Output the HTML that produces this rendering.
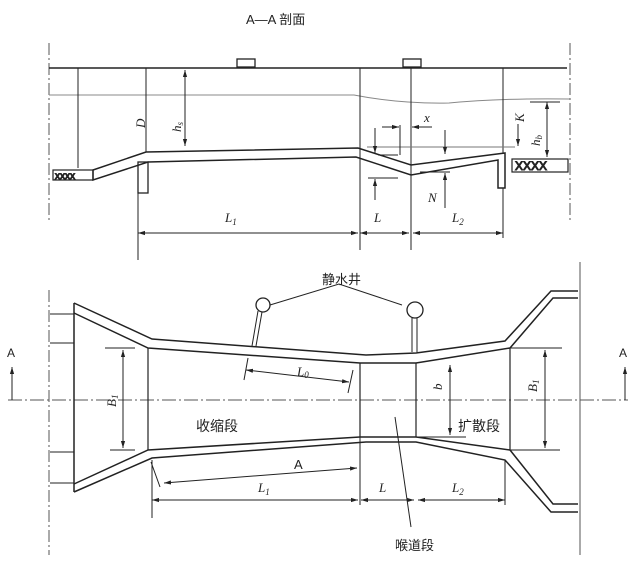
<!DOCTYPE html>
<html><head><meta charset="utf-8"><style>
html,body{margin:0;padding:0;background:#fff;}
svg{display:block;}
text{font-family:"Liberation Serif","Noto Serif CJK SC",serif;fill:#222;}
.c{font-family:"Liberation Sans","Noto Sans CJK SC",sans-serif;}
</style></head><body>
<svg width="639" height="564" viewBox="0 0 639 564" xmlns="http://www.w3.org/2000/svg">
<defs>
<marker id="a" viewBox="0 0 10 10" refX="10" refY="5" markerWidth="7" markerHeight="7" orient="auto-start-reverse"><path d="M0,2 L10,5 L0,8 z" fill="#222"/></marker>
</defs>
<g stroke="#222" fill="none" stroke-width="1">
<!-- TOP SECTION -->
<line x1="49" y1="43" x2="49" y2="222" stroke-dasharray="12,3,2,3" stroke="#555"/>
<line x1="570" y1="43" x2="570" y2="222" stroke-dasharray="12,3,2,3" stroke="#555"/>
<line x1="49" y1="68" x2="567" y2="68" stroke-width="1.5"/>
<rect x="237" y="59" width="18" height="8" stroke-width="1.3"/>
<rect x="403" y="59" width="18" height="8" stroke-width="1.3"/>
<path d="M49,95 L354,95 Q400,104 449,103 Q500,98 570,99" stroke="#888"/>
<line x1="78" y1="68" x2="78" y2="168"/>
<path d="M93,170 L146,152 L358,148 L411,165 L505,153 L505,188 L498,188 L498,160 L411,175 L356,157 L148,162 L93,180 Z" stroke-width="1.5"/>
<rect x="53" y="170" width="40" height="10" stroke-width="1.2"/>
<text x="55" y="179" font-size="10" class="c">xxxx</text>
<rect x="138" y="162" width="10" height="31" stroke-width="1.3"/>
<rect x="512" y="159" width="56" height="13" stroke-width="1.2"/>
<text x="515" y="170" font-size="12" class="c">XXXX</text>
<line x1="146" y1="68" x2="146" y2="152"/>
<line x1="185" y1="70" x2="185" y2="146" marker-start="url(#a)" marker-end="url(#a)"/>
<line x1="360" y1="68" x2="360" y2="250"/>
<line x1="411" y1="68" x2="411" y2="250"/>
<line x1="503" y1="68" x2="503" y2="153"/>
<line x1="138" y1="193" x2="138" y2="260"/>
<line x1="547" y1="102" x2="547" y2="157" marker-start="url(#a)" marker-end="url(#a)"/>
<line x1="530" y1="102" x2="560" y2="102"/>
<line x1="367" y1="147" x2="515" y2="147" stroke="#777"/>
<line x1="378" y1="155" x2="398" y2="155"/>
<line x1="368" y1="178" x2="398" y2="178"/>
<line x1="420" y1="172" x2="450" y2="172"/>
<line x1="375" y1="128" x2="375" y2="153" marker-end="url(#a)"/>
<line x1="375" y1="200" x2="375" y2="179" marker-end="url(#a)"/>
<line x1="445" y1="130" x2="445" y2="154" marker-end="url(#a)"/>
<line x1="445" y1="208" x2="445" y2="173" marker-end="url(#a)"/>
<line x1="400" y1="125" x2="400" y2="155"/>
<line x1="382" y1="127" x2="399" y2="127" marker-end="url(#a)"/>
<line x1="432" y1="127" x2="412" y2="127" marker-end="url(#a)"/>
<line x1="518" y1="124" x2="518" y2="146" marker-end="url(#a)"/>
<line x1="138" y1="233" x2="358" y2="233" marker-start="url(#a)" marker-end="url(#a)"/>
<line x1="360" y1="233" x2="409" y2="233" marker-start="url(#a)" marker-end="url(#a)"/>
<line x1="413" y1="233" x2="503" y2="233" marker-start="url(#a)" marker-end="url(#a)"/>
<line x1="503" y1="188" x2="503" y2="238"/>

<!-- BOTTOM SECTION -->
<line x1="49" y1="290" x2="49" y2="555" stroke-dasharray="12,3,2,3" stroke="#555"/>
<line x1="580" y1="262" x2="580" y2="555" stroke="#555"/>
<line x1="8" y1="400" x2="628" y2="400" stroke-dasharray="14,3,2,3" stroke="#555"/>
<path d="M12,400 L12,367" marker-end="url(#a)"/>
<path d="M625,400 L625,367" marker-end="url(#a)"/>
<path d="M74,303 L152,339 L366,355 L416,353 L505,341 L551,291 L578,291" stroke-width="1.5"/>
<path d="M74,313 L148,348 L360,363 L416,363 L510,348 L553,298 L578,298" stroke-width="1.5"/>
<path d="M74,492 L152,458 L366,442 L416,442 L505,460 L551,512 L578,512" stroke-width="1.5"/>
<path d="M74,484 L148,450 L360,437 L416,437 L510,450 L553,504 L578,504" stroke-width="1.5"/>
<line x1="74" y1="303" x2="74" y2="492" stroke-width="1.5"/>
<line x1="148" y1="348" x2="148" y2="450" stroke-width="1.2"/>
<line x1="360" y1="363" x2="360" y2="437" stroke-width="1.2"/>
<line x1="416" y1="363" x2="416" y2="437" stroke-width="1.2"/>
<line x1="510" y1="348" x2="510" y2="450" stroke-width="1.2"/>
<line x1="50" y1="314" x2="74" y2="314"/>
<line x1="50" y1="343" x2="74" y2="343"/>
<line x1="50" y1="452" x2="74" y2="452"/>
<line x1="50" y1="483" x2="74" y2="483"/>
<circle cx="263" cy="305" r="7" stroke-width="1.3"/>
<circle cx="415" cy="310" r="8" stroke-width="1.3"/>
<path d="M258,311 L252,346 M262,312 L256,346" />
<path d="M412,318 L412,352 M417,318 L417,352"/>
<path d="M270,305 L339,284 L402,305"/>
<line x1="105" y1="348" x2="135" y2="348"/>
<line x1="110" y1="450" x2="135" y2="450"/>
<line x1="123" y1="350" x2="123" y2="448" marker-start="url(#a)" marker-end="url(#a)"/>
<line x1="418" y1="437" x2="466" y2="437"/>
<line x1="450" y1="365" x2="450" y2="435" marker-start="url(#a)" marker-end="url(#a)"/>
<line x1="510" y1="348" x2="562" y2="348"/>
<line x1="510" y1="450" x2="560" y2="450"/>
<line x1="545" y1="350" x2="545" y2="448" marker-start="url(#a)" marker-end="url(#a)"/>
<line x1="246" y1="370" x2="349" y2="382" marker-start="url(#a)" marker-end="url(#a)"/>
<line x1="248" y1="358" x2="244" y2="380"/>
<line x1="353" y1="370" x2="348" y2="393"/>
<line x1="164" y1="483" x2="357" y2="468" marker-start="url(#a)" marker-end="url(#a)"/>
<line x1="151" y1="462" x2="160" y2="487"/>
<line x1="152" y1="460" x2="152" y2="518"/>
<line x1="505" y1="460" x2="505" y2="505"/>
<line x1="152" y1="500" x2="358" y2="500" marker-start="url(#a)" marker-end="url(#a)"/>
<line x1="361" y1="500" x2="414" y2="500" marker-start="url(#a)" marker-end="url(#a)"/>
<line x1="418" y1="500" x2="505" y2="500" marker-start="url(#a)" marker-end="url(#a)"/>
<line x1="360" y1="437" x2="360" y2="505"/>
<line x1="395" y1="417" x2="411" y2="527"/>
</g>
<text x="246" y="24" font-size="13" class="c">A—A 剖面</text>
<g font-style="italic" font-size="13">
<text x="0" y="0" transform="translate(145,128) rotate(-90)">D</text>
<text x="0" y="0" transform="translate(181,132) rotate(-90)">h<tspan font-size="9" dy="2">s</tspan></text>
<text x="0" y="0" transform="translate(524,122) rotate(-90)">K</text>
<text x="0" y="0" transform="translate(540,146) rotate(-90)">h<tspan font-size="9" dy="2">b</tspan></text>
<text x="424" y="122">x</text>
<text x="428" y="202">N</text>
<text x="225" y="222">L<tspan font-size="9" dy="3">1</tspan></text>
<text x="374" y="222">L</text>
<text x="452" y="222">L<tspan font-size="9" dy="3">2</tspan></text>
<text x="0" y="0" transform="translate(116,407) rotate(-90)">B<tspan font-size="9" dy="2">1</tspan></text>
<text x="0" y="0" transform="translate(442,390) rotate(-90)">b</text>
<text x="0" y="0" transform="translate(537,392) rotate(-90)">B<tspan font-size="9" dy="2">1</tspan></text>
<text x="297" y="376">L<tspan font-size="9" dy="2">0</tspan></text>
<text x="258" y="492">L<tspan font-size="9" dy="3">1</tspan></text>
<text x="379" y="492">L</text>
<text x="452" y="492">L<tspan font-size="9" dy="3">2</tspan></text>
</g>
<text x="294" y="469" font-size="13" class="c">A</text>
<text x="7" y="357" font-size="12" class="c">A</text>
<text x="619" y="357" font-size="12" class="c">A</text>
<text x="322" y="284" font-size="13" class="c">静水井</text>
<text x="196" y="431" font-size="14" class="c">收缩段</text>
<text x="458" y="431" font-size="14" class="c">扩散段</text>
<text x="395" y="550" font-size="13" class="c">喉道段</text>
</svg>
</body></html>
